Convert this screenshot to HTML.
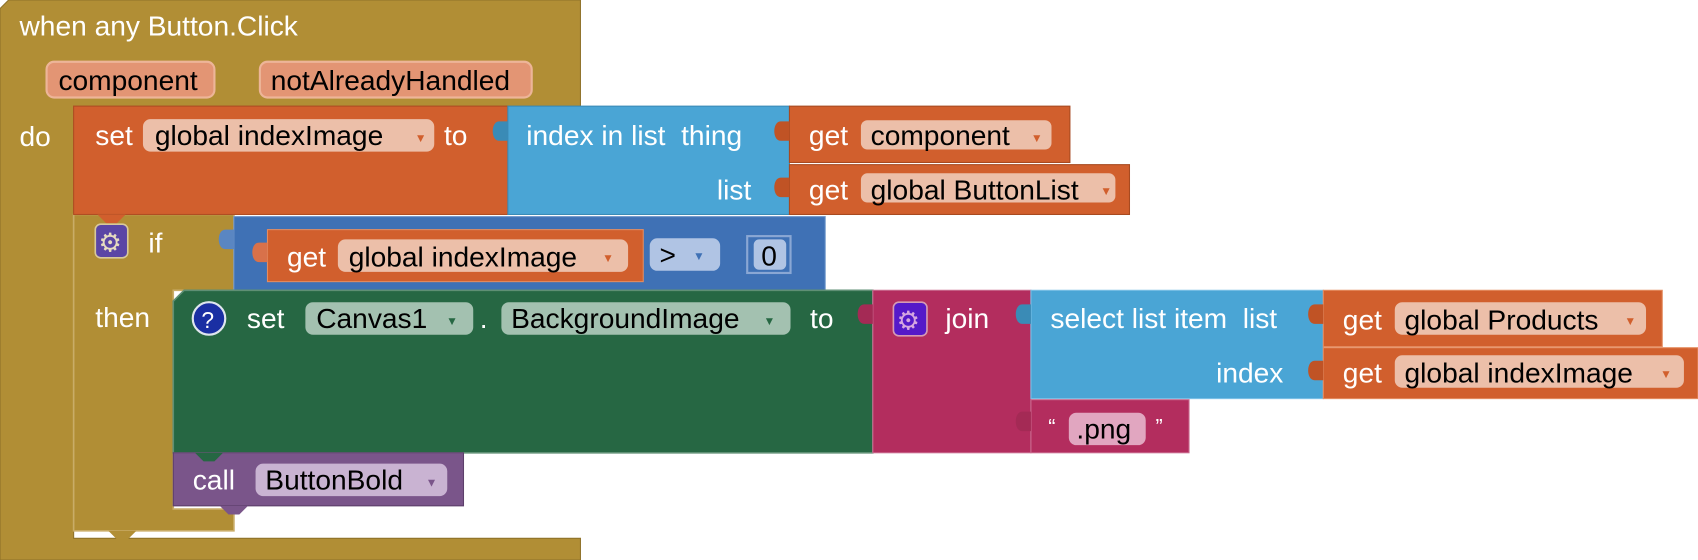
<!DOCTYPE html>
<html><head><meta charset="utf-8"><style>
html,body{margin:0;padding:0;background:#fff;width:1698px;height:560px;overflow:hidden}
svg text{font-family:"Liberation Sans",sans-serif;font-size:26px;white-space:pre}
.w{fill:#fff}.k{fill:#000}
</style></head><body>
<svg width="1698" height="560" viewBox="0 0 1568 517" preserveAspectRatio="none" xmlns="http://www.w3.org/2000/svg" xml:space="preserve">
<path d="M8 0H536V98H68V497H536V517H0V8Z" fill="#B18E35" stroke="#8f7229" stroke-width="1"/>
<text x="18" y="33" class="w">when any Button.Click</text>
<rect x="43" y="57" width="155" height="33" rx="7" fill="#E39574" stroke="#EDB598" stroke-width="2"/>
<text x="54" y="83" class="k">component</text>
<rect x="240" y="57" width="251" height="33" rx="7" fill="#E39574" stroke="#EDB598" stroke-width="2"/>
<text x="250" y="83" class="k">notAlreadyHandled</text>
<text x="18" y="135" class="w">do</text>

<path d="M68 198H216V268H160V470H216V490H68Z" fill="#B18E35" stroke="#c9ac67" stroke-width="1.5"/>
<rect x="88" y="207" width="30" height="31" rx="5" fill="#5B46A5" stroke="#d8c99a" stroke-width="1.5"/>
<text x="91" y="232" style="font-size:24px;fill:#e6dcc0">⚙</text>
<text x="137" y="233" class="w">if</text>
<text x="88" y="302" class="w">then</text>

<rect x="68" y="98" width="401" height="100" fill="#D15F2D" stroke="#b04d22"/>
<path d="M90 198l8 8h10l8-8z" fill="#D15F2D"/>
<text x="88" y="134" class="w">set</text>
<rect x="132" y="110" width="269" height="30" rx="7" fill="#ECBFA9"/>
<text x="143" y="134" class="k">global indexImage</text>
<text x="383" y="131" style="font-size:11px;fill:#D15F2D">▼</text>
<text x="410" y="134" class="w">to</text>

<rect x="469" y="98" width="260" height="100" fill="#4AA5D5" stroke="#3a8bb6"/>
<path d="M469 112h-8c-8 0-8 18 0 18h8z" fill="#3a8bb6"/>
<text x="486" y="134" class="w">index in list  thing</text>
<text x="662" y="184" class="w">list</text>

<rect x="729" y="98" width="259" height="52" fill="#D15F2D" stroke="#a84a20"/>
<path d="M729 112h-8c-8 0-8 18 0 18h8z" fill="#c05325"/>
<text x="747" y="134" class="w">get</text>
<rect x="795" y="111" width="176" height="27" rx="6" fill="#ECBFA9"/>
<text x="804" y="134" class="k">component</text>
<text x="952" y="131" style="font-size:11px;fill:#D15F2D">▼</text>

<rect x="729" y="152" width="314" height="46" fill="#D15F2D" stroke="#a84a20"/>
<path d="M729 164h-8c-8 0-8 18 0 18h8z" fill="#c05325"/>
<text x="747" y="184" class="w">get</text>
<rect x="795" y="160" width="235" height="27" rx="6" fill="#ECBFA9"/>
<text x="804" y="184" class="k">global ButtonList</text>
<text x="1016" y="180" style="font-size:11px;fill:#D15F2D">▼</text>

<rect x="216" y="200" width="546" height="68" fill="#3F71B5" stroke="#6b93c9"/>
<path d="M216 212h-8c-8 0-8 18 0 18h8z" fill="#5a86c2"/>
<rect x="247" y="212" width="347" height="48" fill="#D15F2D" stroke="#e48c60"/>
<path d="M247 224h-8c-8 0-8 18 0 18h8z" fill="#d8714a"/>
<text x="265" y="246" class="w">get</text>
<rect x="312" y="221" width="268" height="30" rx="7" fill="#ECBFA9"/>
<text x="322" y="246" class="k">global indexImage</text>
<text x="556" y="242" style="font-size:11px;fill:#D15F2D">▼</text>
<rect x="600" y="220" width="65" height="30" rx="7" fill="#B0C4E4"/>
<text x="609" y="244" class="k">&gt;</text>
<text x="640" y="240" style="font-size:11px;fill:#3F71B5">▼</text>
<rect x="690" y="218" width="40" height="34" fill="#3F71B5" stroke="#8aa7d4" stroke-width="2"/>
<rect x="696" y="221" width="30" height="28" rx="5" fill="#B0C4E4"/>
<text x="703" y="245" class="k">0</text>

<path d="M170 268H806V418H160V278Z" fill="#266743" stroke="#5f8f74" stroke-width="1.5"/>
<circle cx="193" cy="294" r="15" fill="#1A2FA3" stroke="#dfe6ee" stroke-width="2"/>
<text x="186" y="303" class="w" style="font-size:21px">?</text>
<text x="228" y="303" class="w">set</text>
<rect x="282" y="279" width="155" height="30" rx="7" fill="#A3C1B0"/>
<text x="292" y="303" class="k">Canvas1</text>
<text x="412" y="300" style="font-size:11px;fill:#266743">▼</text>
<text x="443" y="303" class="w">.</text>
<rect x="463" y="279" width="267" height="30" rx="7" fill="#A3C1B0"/>
<text x="472" y="303" class="k">BackgroundImage</text>
<text x="705" y="300" style="font-size:11px;fill:#266743">▼</text>
<text x="748" y="303" class="w">to</text>

<rect x="806" y="268" width="146" height="150" fill="#B32D5E" stroke="#c96a8e"/>
<path d="M806 281h-8c-8 0-8 18 0 18h8z" fill="#a42a55"/>
<rect x="825" y="279" width="31" height="31" rx="5" fill="#5519C9" stroke="#d59ab4" stroke-width="1.5"/>
<text x="828" y="304" style="font-size:24px;fill:#d6a6e0">⚙</text>
<text x="873" y="303" class="w">join</text>

<rect x="952" y="268" width="270" height="100" fill="#4AA5D5" stroke="#7cc0e6"/>
<path d="M952 281h-8c-8 0-8 18 0 18h8z" fill="#3a8bb6"/>
<text x="970" y="303" class="w">select list item  list</text>
<text x="1123" y="353" class="w">index</text>

<rect x="1222" y="268" width="313" height="52" fill="#D15F2D" stroke="#e48c60"/>
<path d="M1222 281h-8c-8 0-8 18 0 18h8z" fill="#c05325"/>
<text x="1240" y="304" class="w">get</text>
<rect x="1288" y="279" width="232" height="30" rx="7" fill="#ECBFA9"/>
<text x="1297" y="304" class="k">global Products</text>
<text x="1500" y="300" style="font-size:11px;fill:#D15F2D">▼</text>

<rect x="1222" y="321" width="346" height="47" fill="#D15F2D" stroke="#e48c60"/>
<path d="M1222 333h-8c-8 0-8 18 0 18h8z" fill="#c05325"/>
<text x="1240" y="353" class="w">get</text>
<rect x="1288" y="328" width="267" height="30" rx="7" fill="#ECBFA9"/>
<text x="1297" y="353" class="k">global indexImage</text>
<text x="1533" y="349" style="font-size:11px;fill:#D15F2D">▼</text>

<rect x="952" y="369" width="146" height="49" fill="#B32D5E" stroke="#c96a8e"/>
<path d="M952 380h-8c-8 0-8 18 0 18h8z" fill="#a42a55"/>
<text x="968" y="400" class="w" style="font-size:20px">“</text>
<rect x="987" y="381" width="71" height="30" rx="7" fill="#E1A6C0"/>
<text x="994" y="405" class="k">.png</text>
<text x="1067" y="400" class="w" style="font-size:20px">”</text>

<path d="M160 418H428V467H160Z" fill="#7A558A" stroke="#5d3f6b"/>
<path d="M180 418l8 8h10l8-8z" fill="#266743"/>
<path d="M203 467l8 8h10l8-8z" fill="#7A558A"/>
<text x="178" y="452" class="w">call</text>
<rect x="236" y="428" width="177" height="30" rx="7" fill="#C9B3D2"/>
<text x="245" y="452" class="k">ButtonBold</text>
<text x="393" y="449" style="font-size:11px;fill:#7A558A">▼</text>
<path d="M100 490l8 8h10l8-8z" fill="#B18E35"/>
</svg>
</body></html>
